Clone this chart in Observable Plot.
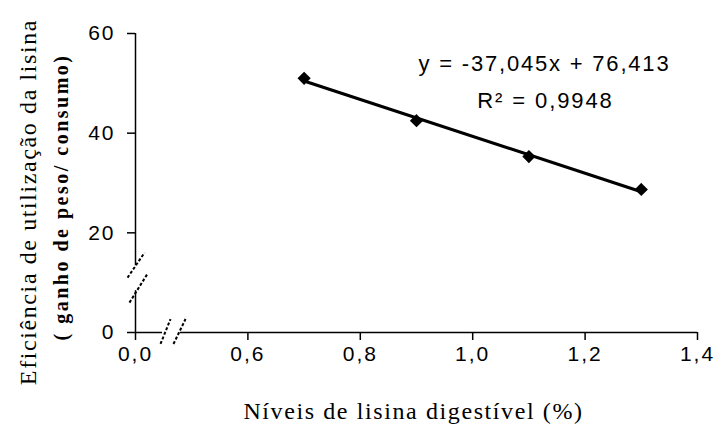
<!DOCTYPE html>
<html>
<head>
<meta charset="utf-8">
<script src="https://cdn.jsdelivr.net/npm/d3@7"></script>
<script src="https://cdn.jsdelivr.net/npm/@observablehq/plot@0.6"></script>
<style>
  html, body { margin: 0; padding: 0; background: #fff; }
  svg { display: block; }
</style>
</head>
<body>
<div id="chart"></div>
<script>
// Data (lysine level %, efficiency)
const lysine = [0.7, 0.9, 1.1, 1.3];
const efficiency = [51.0, 42.5, 35.3, 28.7];
// Regression from the chart
const slope = -37.045;
const intercept = 76.413;
const eqText = "y = -37,045x + 76,413";
const r2Text = "R² = 0,9948";

// Axis ticks (x axis is broken: "0,0" sits where 0.4 would be)
const xTicks = [0.4, 0.6, 0.8, 1.0, 1.2, 1.4];
const xTickLabels = ["0,0", "0,6", "0,8", "1,0", "1,2", "1,4"];
const yTicks = [0, 20, 40, 60];
const yTickLabels = ["0", "20", "40", "60"];

const xTitle = "Níveis de lisina digestível (%)";
const yTitle1 = "Eficiência de utilização da lisina";
const yTitle2 = "( ganho de peso/ consumo)";

// Axis break decorations (data units)
const xAxisSegments = [{x1: 0.4, x2: 0.448}, {x1: 0.480, x2: 1.4}];
const yAxisSegments = [{y1: 0, y2: 8.4}, {y1: 13.4, y2: 60}];
const breakSlashes = [
  {x1: 0.4445, y1: -2.3, x2: 0.4623, y2: 2.7},
  {x1: 0.4676, y1: -2.3, x2: 0.4890, y2: 2.7},
  {x1: 0.3858, y1: 11.0, x2: 0.4160, y2: 16.0},
  {x1: 0.3893, y1: 6.0, x2: 0.4214, y2: 11.8}
];

const points = lysine.map((x, i) => ({x, y: efficiency[i]}));
const trend = [lysine[0], lysine[lysine.length - 1]].map(x => ({x, y: intercept + slope * x}));

const fmtX = d => xTickLabels[xTicks.indexOf(d)] ?? "";
const fmtY = d => yTickLabels[yTicks.indexOf(d)] ?? "";
const serif = "'Liberation Serif', 'Times New Roman', serif";

const chart = Plot.plot({
  width: 717,
  height: 435,
  marginLeft: 135,
  marginRight: 20,
  marginTop: 33,
  marginBottom: 103,
  style: {background: "#fff", color: "#000", fontFamily: "'Liberation Sans', Arial, sans-serif"},
  x: {domain: [0.4, 1.4]},
  y: {domain: [0, 60]},
  marks: [
    Plot.axisX(xTicks, {tickSize: 8, tickPadding: 6, tickFormat: fmtX, fontSize: 21, stroke: "#000", strokeWidth: 1.5, label: null}),
    Plot.axisY(yTicks, {tickSize: 8, tickPadding: 12, tickFormat: fmtY, fontSize: 21, stroke: "#000", strokeWidth: 1.5, label: null}),
    Plot.ruleY(xAxisSegments, {y: 0, x1: "x1", x2: "x2", stroke: "#000", strokeWidth: 1.5}),
    Plot.ruleX(yAxisSegments, {x: 0.4, y1: "y1", y2: "y2", stroke: "#000", strokeWidth: 1.5}),
    Plot.link(breakSlashes, {x1: "x1", y1: "y1", x2: "x2", y2: "y2", stroke: "#000", strokeWidth: 2, strokeDasharray: "3,2", clip: false}),
    Plot.line(trend, {x: "x", y: "y", stroke: "#000", strokeWidth: 3.2}),
    Plot.dot(points, {x: "x", y: "y", symbol: "diamond2", r: 5, fill: "#000", stroke: "#000"}),
    Plot.text([eqText], {frameAnchor: "top-left", textAnchor: "middle", lineAnchor: "middle", dx: 409, dy: 30, fontSize: 22}),
    Plot.text([r2Text], {frameAnchor: "top-left", textAnchor: "middle", lineAnchor: "middle", dx: 410, dy: 67, fontSize: 22}),
    Plot.text([xTitle], {frameAnchor: "bottom", textAnchor: "middle", dx: -3, dy: 86, fontSize: 24, fontFamily: serif}),
    Plot.text([yTitle1], {frameAnchor: "left", textAnchor: "middle", lineAnchor: "middle", dx: -107, dy: 19, rotate: -90, fontSize: 24, fontFamily: serif}),
    Plot.text([yTitle2], {frameAnchor: "left", textAnchor: "middle", lineAnchor: "middle", dx: -74, dy: 14, rotate: -90, fontSize: 20, fontWeight: "bold", fontFamily: serif})
  ]
});

// letter spacing to match the wide original lettering
const spacing = new Map([
  [eqText, 1.8], [r2Text, 1.9], [xTitle, 1.6], [yTitle1, 1.6], [yTitle2, 2.5]
]);
d3.select(chart).selectAll("text").each(function() {
  const t = this.textContent;
  if (spacing.has(t)) d3.select(this).attr("letter-spacing", spacing.get(t));
});
d3.select(chart).selectAll('g[aria-label$="tick label"] text').attr("letter-spacing", 2);
document.getElementById("chart").append(chart);
</script>
</body>
</html>
